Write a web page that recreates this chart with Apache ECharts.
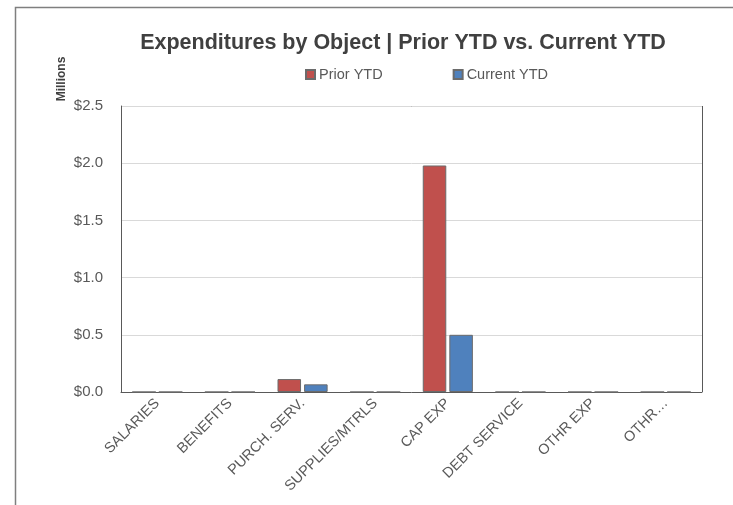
<!DOCTYPE html>
<html><head><meta charset="utf-8">
<script src="https://cdn.jsdelivr.net/npm/echarts@6/dist/echarts.min.js"></script>
<style>html,body{margin:0;padding:0;background:#fff}#c{width:733px;height:505px}</style>
</head><body><div id="c"></div>
<script>
const categories = ['SALARIES','BENEFITS','PURCH. SERV.','SUPPLIES/MTRLS','CAP EXP','DEBT SERVICE','OTHR EXP','OTHR\u2026'];
const priorYTD = [0, 0, 0.113, 0, 1.98, 0, 0, 0];
const currentYTD = [0, 0, 0.067, 0, 0.50, 0, 0, 0];
const yTicks = [0, 0.5, 1.0, 1.5, 2.0, 2.5];

const chart = echarts.init(document.getElementById('c'), null, {renderer:'canvas'});
const font = 'Liberation Sans, Arial, sans-serif';
chart.setOption({
  animation: false,
  title: {
    text: 'Expenditures by Object | Prior YTD vs. Current YTD',
    left: 398, textAlign: 'center', top: 27,
    textStyle: {fontFamily: font, fontSize: 21.5, fontWeight: 'bold', color: '#404040'}
  },
  legend: {
    left: 300, top: 62, itemWidth: 9, itemHeight: 9, itemGap: 70,
    icon: 'rect',
    textStyle: {fontFamily: font, fontSize: 14.5, color: '#595959', padding: [0,0,0,-1]},
    data: ['Prior YTD', 'Current YTD']
  },
  grid: {left: 121, right: 31, top: 106, bottom: 113},
  xAxis: {
    type: 'category', data: categories,
    axisLine: {lineStyle: {color: '#595959', width: 1}},
    axisTick: {show: false},
    axisLabel: {rotate: 45, interval: 0, fontFamily: font, fontSize: 14.5, color: '#595959', margin: 9}
  },
  yAxis: {
    type: 'value', min: yTicks[0], max: yTicks[yTicks.length-1], interval: 0.5,
    axisLine: {show: true, lineStyle: {color: '#595959'}},
    axisTick: {show: false},
    splitLine: {lineStyle: {color: '#d9d9d9'}},
    axisLabel: {fontFamily: font, fontSize: 15, color: '#595959', margin: 18,
      formatter: v => '$' + v.toFixed(1)}
  },
  series: [
    {name: 'Prior YTD', type: 'bar', data: priorYTD, barGap: '13%', barCategoryGap: '31%',
     itemStyle: {color: '#C0504D', borderColor: '#6b6b6b', borderWidth: 1}},
    {name: 'Current YTD', type: 'bar', data: currentYTD,
     itemStyle: {color: '#4F81BD', borderColor: '#6b6b6b', borderWidth: 1}}
  ],
  graphic: [
    {type: 'polyline', shape: {points: [[15.5, 505], [15.5, 7.5], [733, 7.5]]}, style: {stroke: '#7f7f7f', lineWidth: 1.5, fill: null}},
    {type: 'line', shape: {x1: 702.5, y1: 106, x2: 702.5, y2: 392}, style: {stroke: '#595959', lineWidth: 1}},
    {type: 'line', shape: {x1: 121, y1: 106.5, x2: 702.5, y2: 106.5}, style: {stroke: '#595959', lineWidth: 1}},
    {type: 'text', x: 62, y: 79, rotation: Math.PI/2, style: {text: 'Millions', fontFamily: font, fontSize: 12, fontWeight: 'bold', fill: '#404040', align: 'center', verticalAlign: 'middle'}}
  ]
});
</script></body></html>
